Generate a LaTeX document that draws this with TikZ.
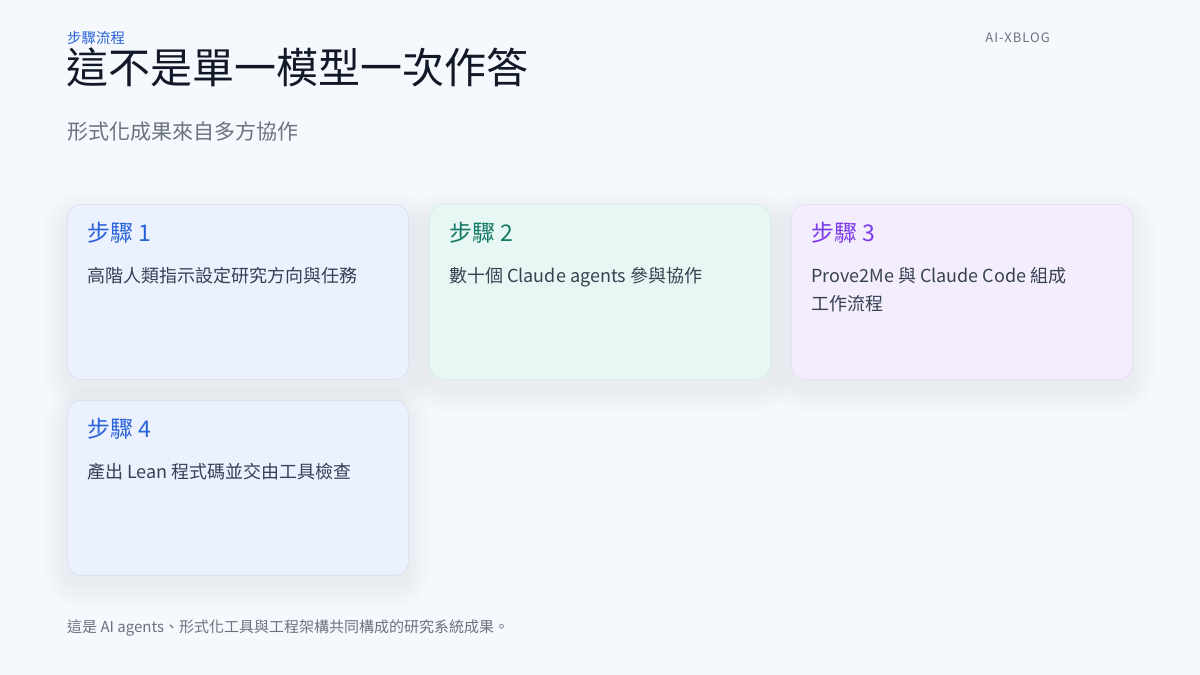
\documentclass[tikz,border=0pt]{standalone}
\usepackage{fontspec}
\setmainfont{Noto Sans CJK TC}
\newfontfamily\spacedfont[LetterSpace=8]{Noto Sans CJK TC}
\definecolor{bgc}{HTML}{F5F8FC}
\definecolor{ink}{HTML}{111827}
\definecolor{muted}{HTML}{6B7280}
\definecolor{body}{HTML}{374151}
\definecolor{blueT}{HTML}{2B63D9}
\definecolor{greenT}{HTML}{157A66}
\definecolor{purpleT}{HTML}{7C3AED}
\definecolor{blueF}{HTML}{EBF1FE}
\definecolor{greenF}{HTML}{E7F7F3}
\definecolor{purpleF}{HTML}{F3EDFE}
\definecolor{blueB}{HTML}{D9E2F3}
\definecolor{greenB}{HTML}{D6EEE7}
\definecolor{purpleB}{HTML}{E7E0F5}
\newcommand{\cardshadow}[2]{%
  \foreach \i in {2,4,...,24}{%
    \fill[black,opacity=0.0035,rounded corners=14+\i]
      (#1-\i,#2-\i+10) rectangle (#1+341+\i,#2+175+\i+10);}}
\begin{document}
\begin{tikzpicture}[x=1pt,y=-1pt,
  card/.style={rounded corners=14pt,line width=0.8pt,minimum width=341pt,minimum height=175pt,anchor=north west,inner sep=0pt},
  steptitle/.style={anchor=base west,inner sep=0pt,font=\fontsize{23}{28}\selectfont},
  bodytext/.style={anchor=base west,inner sep=0pt,text=body,font=\fontsize{18}{28}\selectfont,align=left}]
\fill[bgc] (0,0) rectangle (1200,675);
\useasboundingbox (0,0) rectangle (1200,675);
% header
\node[anchor=base west,inner sep=0pt,text=blueT,font=\fontsize{14.5}{17}\selectfont] (kicker) at (67,43.5) {步驟流程};
\node[anchor=base east,inner sep=0pt,text=muted,font=\spacedfont\fontsize{13}{15}\selectfont] (brand) at (1050,42.5) {AI-XBLOG};
\node[anchor=base west,inner sep=0pt,text=ink,font=\fontsize{42}{50}\selectfont] (title) at (66,83) {這不是單一模型一次作答};
\node[anchor=base west,inner sep=0pt,text=muted,font=\fontsize{21}{25}\selectfont] (subtitle) at (67,139) {形式化成果來自多方協作};
% shadows
\cardshadow{67}{204}
\cardshadow{429}{204}
\cardshadow{791}{204}
\cardshadow{67}{400}
% cards
\node[card,fill=blueF,draw=blueB] (c1) at (67,204) {};
\node[card,fill=greenF,draw=greenB] (c2) at (429,204) {};
\node[card,fill=purpleF,draw=purpleB] (c3) at (791,204) {};
\node[card,fill=blueF,draw=blueB] (c4) at (67,400) {};
% card texts
\node[steptitle,text=blueT] (t1) at (87,241) {步驟 1};
\node[bodytext] (b1) at (87,282) {高階人類指示設定研究方向與任務};
\node[steptitle,text=greenT] (t2) at (449,241) {步驟 2};
\node[bodytext] (b2) at (449,282) {數十個 Claude agents 參與協作};
\node[steptitle,text=purpleT] (t3) at (811,241) {步驟 3};
\node[bodytext] (b3) at (811,282) {Prove2Me 與 Claude Code 組成};
\node[bodytext] (b3b) at (811,310) {工作流程};
\node[steptitle,text=blueT] (t4) at (87,437) {步驟 4};
\node[bodytext] (b4) at (87,478) {產出 Lean 程式碼並交由工具檢查};
% footer
\node[anchor=base west,inner sep=0pt,text=muted,font=\fontsize{15}{18}\selectfont] (footer) at (67,632) {這是 AI agents、形式化工具與工程架構共同構成的研究系統成果。};
\end{tikzpicture}
\end{document}
